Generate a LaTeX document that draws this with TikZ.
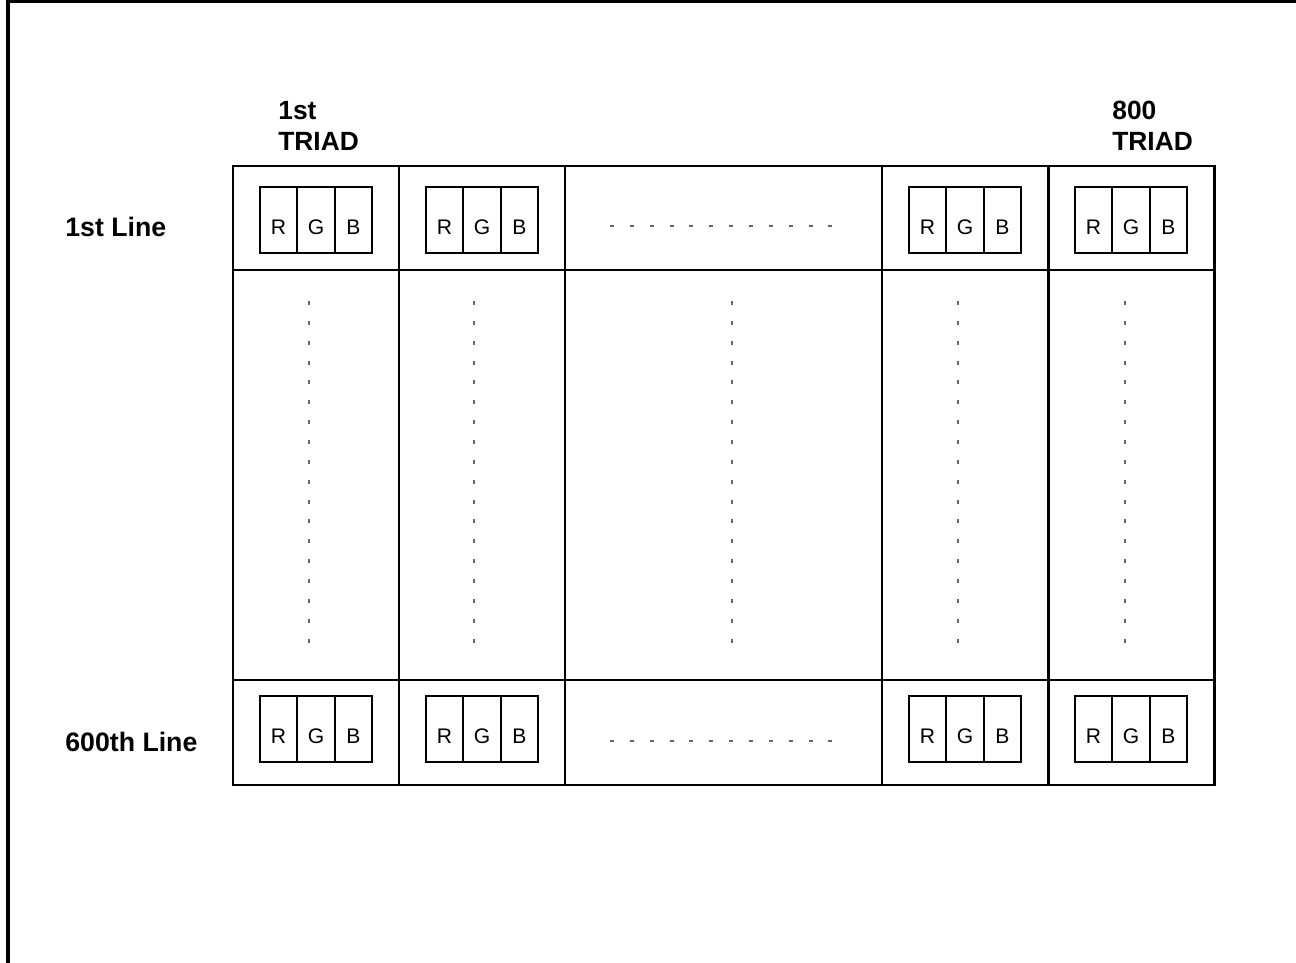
\documentclass[tikz,border=0pt]{standalone}
\usepackage{fontspec}
\setmainfont{Liberation Sans}
\usetikzlibrary{positioning}

% one R G B triad, centred at (#2,#3)
\newcommand{\triad}[3]{%
  \node[SubPix] (#1r) at ({#2-37.5},#3) {R};
  \node[SubPix, right=0pt of #1r] (#1g) {G};
  \node[SubPix, right=0pt of #1g] (#1b) {B};
}

\begin{document}
\begin{tikzpicture}[x=0.02cm, y=-0.02cm,
    SubPix/.style = {shape=rectangle, draw, line width=1.2pt, outer sep=0pt, inner sep=0pt,
      minimum width=0.75cm, minimum height=1.32cm, text height=17pt, text depth=0pt,
      font=\fontsize{12}{14}\selectfont},
    GridLine/.style = {line width=1.7pt},
    DotLine/.style = {line width=0.6pt, black!60, dash pattern=on 2.3pt off 9pt},
    HeadText/.style = {anchor=north west, inner sep=0pt, align=left,
      font=\bfseries\fontsize{15}{17.6}\selectfont},
    RowText/.style = {anchor=base west, inner sep=0pt, font=\bfseries\fontsize{15.2}{17}\selectfont}]
  \useasboundingbox (0,0) rectangle (1296,963);

  % frame
  \draw[line width=2pt] (8,963) -- (8,1) -- (1296,1);

  % grid
  \draw[GridLine] (233,166) rectangle (1214,785);
  \foreach \gx in {399,565,882,1048}
    \draw[GridLine] (\gx,166) -- (\gx,785);
  \draw[GridLine] (233,270) -- (1214,270);
  \draw[GridLine] (233,680) -- (1214,680);

  % triads
  \triad{ta}{316}{220}
  \triad{tb}{482}{220}
  \triad{tc}{965}{220}
  \triad{td}{1131}{220}
  \triad{ba}{316}{729}
  \triad{bb}{482}{729}
  \triad{bc}{965}{729}
  \triad{bd}{1131}{729}

  % dots
  \coordinate (dta) at (610,226);
  \coordinate (dtb) at (840,226);
  \coordinate (dba) at (610,741);
  \coordinate (dbb) at (840,741);
  \draw[DotLine] (dta) -- (dtb);
  \draw[DotLine] (dba) -- (dbb);
  \foreach \dx in {309,474,732,958,1125}
    \draw[DotLine] (\dx,301) -- (\dx,652);

  % labels
  \node[HeadText] (first) at (278,101) {1st\\TRIAD};
  \node[HeadText] (last) at (1112,101) {800\\TRIAD};
  \node[RowText] (lineA) at (65,236) {1st Line};
  \node[RowText] (lineB) at (65,751) {600th Line};
\end{tikzpicture}
\end{document}
